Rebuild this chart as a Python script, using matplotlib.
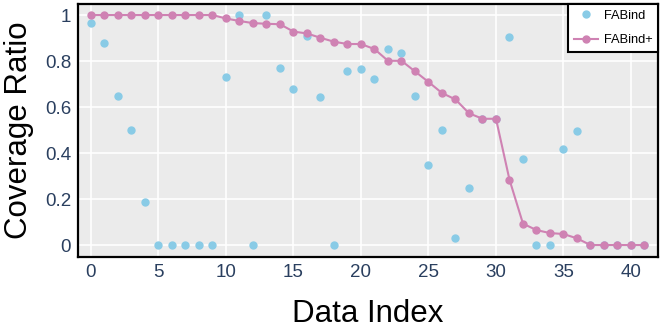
import matplotlib
matplotlib.use("Agg")
import matplotlib.pyplot as plt

plt.rcParams['font.family'] = ['Liberation Sans', 'DejaVu Sans']

idx = list(range(42))
fabind = [0.965, 0.878, 0.648, 0.50, 0.187, 0, 0, 0, 0, 0,
          0.73, 1.0, 0, 1.0, 0.77, 0.68, 0.909, 0.645, 0, 0.758,
          0.765, 0.723, 0.852, 0.835, 0.647, 0.347, 0.499, 0.03, 0.248, 0.549,
          0.549, 0.903, 0.375, 0, 0, 0.419, 0.494, 0, 0, 0, 0, 0]
fabind_plus = [1, 1, 1, 1, 1, 1, 1, 1, 1, 1,
               0.985, 0.974, 0.965, 0.962, 0.96, 0.928, 0.92, 0.901, 0.884, 0.874,
               0.874, 0.852, 0.801, 0.801, 0.755, 0.709, 0.661, 0.633, 0.573, 0.549,
               0.549, 0.284, 0.093, 0.065, 0.052, 0.048, 0.029, 0, 0, 0, 0, 0]
xticks = [0, 5, 10, 15, 20, 25, 30, 35, 40]
yticks = [0, 0.2, 0.4, 0.6, 0.8, 1]
yticklabels = ['0', '0.2', '0.4', '0.6', '0.8', '1']

fig = plt.figure(figsize=(6.64, 3.32), dpi=100)
ax = fig.add_axes([78/664, 1-257/332, (658-78)/664, (257-4)/332])
ax.set_facecolor('#ebebeb')
ax.plot(idx, fabind, linestyle='none', marker='o', markersize=5,
        color='#89cbe6', label='FABind', zorder=3)
ax.plot(idx, fabind_plus, linestyle='-', marker='o', markersize=5,
        linewidth=1.5, color='#cf82b3', label='FABind+', zorder=4)

ax.set_xlim(-0.96, 42.0)
ax.set_ylim(-0.052, 1.048)
ax.set_xticks(xticks)
ax.set_yticks(yticks)
ax.set_yticklabels(yticklabels)
ax.grid(True, color='white', linewidth=1.2)
ax.set_axisbelow(True)
ax.tick_params(length=0, labelsize=13.5, labelcolor='#2a3f5f', pad=5)
for s in ax.spines.values():
    s.set_color('black')
    s.set_linewidth(1.6)
ax.set_xlabel('Data Index', fontsize=22.5, labelpad=13)
ax.set_ylabel('Coverage Ratio', fontsize=22.5, labelpad=8)

leg = ax.legend(loc='upper right', fontsize=9.3, frameon=True, fancybox=False,
                borderaxespad=0, handlelength=1.9, borderpad=0.45,
                labelspacing=0.95, handletextpad=0.4)
leg.get_frame().set_edgecolor('black')
leg.get_frame().set_linewidth(1.5)
leg.get_frame().set_alpha(1)

fig.savefig('out.png', dpi=100)
